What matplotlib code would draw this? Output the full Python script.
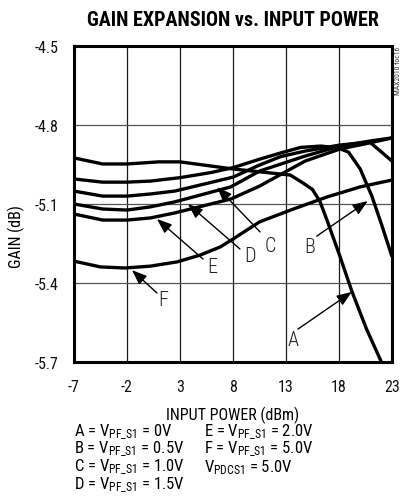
import matplotlib
matplotlib.use("Agg")
import matplotlib.pyplot as plt

FONT = 'Roboto Condensed'
plt.rcParams['font.family'] = [FONT, 'DejaVu Sans']
plt.rcParams['mathtext.fontset'] = 'custom'
plt.rcParams['mathtext.rm'] = FONT
plt.rcParams['mathtext.it'] = FONT
plt.rcParams['mathtext.bf'] = FONT + ':bold'

# ---- data (input power dBm, gain dB) ----
a_x = [-7, -4.3, -2, 1, 3, 8, 12.2, 13.4, 14.6, 15.5, 16.2, 16.9, 18.1, 19.2, 20.6, 22.0]
a_y = [-4.925, -4.948, -4.948, -4.94, -4.94, -4.967, -4.985, -4.99, -5.02, -5.045,
       -5.09, -5.165, -5.30, -5.43, -5.575, -5.70]

b_x = [-7, -4.3, -2, 0.2, 3, 6, 8, 10.5, 12.6, 14.4, 16.3, 17.9, 18.9, 20.0, 21.1, 22.0, 23]
b_y = [-5.005, -5.017, -5.017, -5.013, -5.0, -4.98, -4.962, -4.93, -4.905, -4.885,
       -4.88, -4.887, -4.903, -4.967, -5.07, -5.176, -5.30]

c_x = [-7, -4.3, -2, 0.2, 2.5, 8, 10.5, 12.5, 14.8, 18.1, 20.9, 21.9, 23]
c_y = [-5.051, -5.07, -5.07, -5.062, -5.051, -4.998, -4.952, -4.92, -4.899, -4.876,
       -4.865, -4.899, -4.937]

d_x = [-7, -4.3, -2, 0.2, 2.5, 7.8, 10.5, 14.8, 18.1, 20.9, 23]
d_y = [-5.10, -5.119, -5.123, -5.111, -5.092, -5.035, -4.975, -4.918, -4.88, -4.861, -4.849]

e_x = [-7, -4.3, -2, 0.2, 2.5, 7.8, 10.5, 14.8, 18.1, 20.9, 23]
e_y = [-5.138, -5.161, -5.161, -5.153, -5.134, -5.081, -5.032, -4.937, -4.891, -4.868, -4.849]

f_x = [-7, -4.5, -2.2, 0.2, 2.7, 4.9, 6.8, 8, 10.5, 13.7, 16.9, 20, 23]
f_y = [-5.317, -5.339, -5.343, -5.336, -5.32, -5.294, -5.263, -5.233, -5.168, -5.119,
       -5.073, -5.035, -5.009]

series = [(a_x, a_y), (b_x, b_y), (c_x, c_y), (d_x, d_y), (e_x, e_y), (f_x, f_y)]

x_ticks = [-7, -2, 3, 8, 13, 18, 23]
y_ticks = [-5.7, -5.4, -5.1, -4.8, -4.5]

# curve labels: (text, label pos, arrow tail, arrow tip)
curve_labels = [
    ('A', (13.66, -5.613), (14.13, -5.575), (19.2, -5.434)),
    ('B', (15.26, -5.263), (15.9, -5.222), (20.7, -5.089)),
    ('C', (11.5, -5.256), (10.55, -5.206), (6.5, -5.036)),
    ('D', (9.6, -5.294), (8.66, -5.271), (3.75, -5.10)),
    ('E', (6.0, -5.336), (5.17, -5.309), (0.83, -5.157)),
    ('F', (1.4, -5.461), (0.83, -5.438), (-1.53, -5.351)),
]

legend_col1 = [r'A = V$_{\mathrm{PF\_S1}}$ = 0V',
               r'B = V$_{\mathrm{PF\_S1}}$ = 0.5V',
               r'C = V$_{\mathrm{PF\_S1}}$ = 1.0V',
               r'D = V$_{\mathrm{PF\_S1}}$ = 1.5V']
legend_col2 = [r'E = V$_{\mathrm{PF\_S1}}$ = 2.0V',
               r'F = V$_{\mathrm{PF\_S1}}$ = 5.0V',
               r'V$_{\mathrm{PDCS1}}$ = 5.0V']

W, H = 401, 502
fig = plt.figure(figsize=(W / 100, H / 100), dpi=100)
ax = fig.add_axes([74 / W, 1 - 363 / H, 318 / W, 316 / H])

for xs, ys in series:
    ax.plot(xs, ys, color='black', lw=2.4, solid_capstyle='butt', solid_joinstyle='round', zorder=3)

ax.set_xlim(-7, 23)
ax.set_ylim(-5.7, -4.5)
ax.set_xticks(x_ticks)
ax.set_yticks(y_ticks)
ax.set_xticklabels([str(v) for v in x_ticks])
ax.set_yticklabels(['%.1f' % v for v in y_ticks])
ax.tick_params(axis='both', length=0, labelsize=11.5, colors='#111111')
ax.tick_params(axis='x', pad=12)
ax.tick_params(axis='y', pad=11)
ax.xaxis.grid(True, color='#1a1a1a', lw=0.9)
ax.yaxis.grid(True, color='#555555', lw=0.9)
ax.set_axisbelow(True)
for s in ax.spines.values():
    s.set_linewidth(2.2)
    s.set_color('black')

ax.set_xlabel('INPUT POWER (dBm)', fontsize=11.5, labelpad=9)
ax.set_ylabel('GAIN (dB)', fontsize=11.5)
ax.yaxis.set_label_coords(-0.155, 0.40)

for txt, pos, tail, tip in curve_labels:
    ax.text(pos[0], pos[1], txt, fontsize=14.5, ha='center', va='center', color='#222222',
            fontweight='light')
    ax.annotate('', xy=tip, xytext=tail,
                arrowprops=dict(arrowstyle='-|>,head_length=0.9,head_width=0.35',
                                color='black', lw=1.0, shrinkA=0, shrinkB=0))

fig.text(233 / W, 1 - 20 / H, 'GAIN EXPANSION vs. INPUT POWER', fontsize=14.5,
         fontweight=900, ha='center', va='center')
fig.text(398 / W, 1 - 47 / H, 'MAX2010 toc16', fontsize=5.5, rotation=90,
         ha='center', va='top', color='#333333')

for i, t in enumerate(legend_col1):
    fig.text(74 / W, 1 - (432 + 17.8 * i) / H, t, fontsize=12, ha='left', va='center')
for i, t in enumerate(legend_col2):
    fig.text(204 / W, 1 - (432 + 17.8 * i) / H, t, fontsize=12, ha='left', va='center')

fig.savefig('out.png', dpi=100)
